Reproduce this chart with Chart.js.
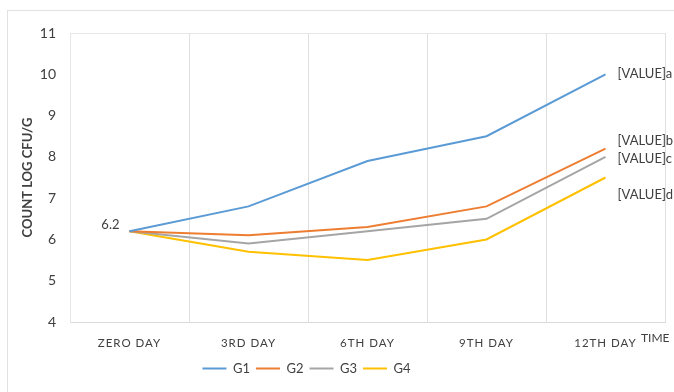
<!DOCTYPE html>
<html>
<head>
<meta charset="utf-8">
<script src="https://cdn.jsdelivr.net/npm/chart.js@4.4.0/dist/chart.umd.min.js"></script>
<style>
  html, body { margin: 0; padding: 0; background: #fff; }
  #wrap { position: relative; width: 674px; height: 392px; }
  #frame { position: absolute; left: 7px; top: 10px; right: -2px; bottom: -2px; border: 1px solid #e2e2e2; }
  canvas { position: absolute; left: 0; top: 0; }
</style>
</head>
<body>
<div id="wrap">
  <div id="frame"></div>
  <canvas id="c" width="674" height="392"></canvas>
</div>
<script>
// Sampling days
const categories = ['ZERO DAY', '3RD DAY', '6TH DAY', '9TH DAY', '12TH DAY'];

// Bacterial count (log CFU/g) per group
const g1 = [6.2, 6.8, 7.9, 8.5, 10.0];
const g2 = [6.2, 6.1, 6.3, 6.8, 8.2];
const g3 = [6.2, 5.9, 6.2, 6.5, 8.0];
const g4 = [6.2, 5.7, 5.5, 6.0, 7.5];

const seriesNames = ['G1', 'G2', 'G3', 'G4'];
const seriesColors = ['#5B9BD5', '#ED7D31', '#A5A5A5', '#FFC000'];

// End-of-series labels and the shared starting label
const endLabels = ['[VALUE]a', '[VALUE]b', '[VALUE]c', '[VALUE]d'];
const endLabelShift = [0, -8, 2, 17];
const startLabel = '6.2';

const yTicks = [4, 5, 6, 7, 8, 9, 10, 11];

const FONT = 'Lato, "Open Sans", sans-serif';

const labelPlugin = {
  id: 'pointLabels',
  afterLayout(chart) {
    // legend sits a little left of centre
    chart.legend.left -= 36;
    chart.legend.right -= 36;
  },
  afterDatasetsDraw(chart) {
    const ctx = chart.ctx;
    ctx.save();
    ctx.font = '13px ' + FONT;
    ctx.fillStyle = '#404040';
    ctx.textBaseline = 'middle';
    chart.data.datasets.forEach((ds, i) => {
      const meta = chart.getDatasetMeta(i);
      const last = meta.data[meta.data.length - 1];
      ctx.textAlign = 'left';
      ctx.fillText(endLabels[i], last.x + 12, last.y + endLabelShift[i]);
    });
    const first = chart.getDatasetMeta(0).data[0];
    ctx.textAlign = 'right';
    ctx.fillText(startLabel, first.x - 10, first.y - 6);

    // axis name at the end of the category axis
    const xs = chart.scales.x;
    ctx.font = '12px ' + FONT;
    ctx.textAlign = 'left';
    ctx.fillText('TIME', chart.chartArea.right - 24, xs.top + 16);

    // top edge of the plot box
    ctx.strokeStyle = '#e6e6e6';
    ctx.lineWidth = 1;
    ctx.beginPath();
    ctx.moveTo(chart.chartArea.left, chart.chartArea.top + 0.5);
    ctx.lineTo(chart.chartArea.right, chart.chartArea.top + 0.5);
    ctx.stroke();
    ctx.restore();
  }
};

const chart = new Chart(document.getElementById('c'), {
  type: 'line',
  data: {
    labels: categories,
    datasets: [g1, g2, g3, g4].map((vals, i) => ({
      label: seriesNames[i],
      data: vals,
      borderColor: seriesColors[i],
      backgroundColor: seriesColors[i],
      borderWidth: 2,
      pointRadius: 0,
      tension: 0,
      fill: false
    }))
  },
  options: {
    responsive: false,
    animation: false,
    events: [],
    layout: { padding: { left: 20, right: 9, top: 33, bottom: 7 } },
    scales: {
      x: {
        offset: true,
        grid: { offset: true, color: '#e0e0e0', drawTicks: false },
        border: { color: '#d9d9d9' },
        ticks: { color: '#404040', font: { family: FONT, size: 11.5 }, padding: 14, maxRotation: 0 },
        afterFit(s) { s.height = 34; }
      },
      y: {
        min: 4,
        max: 11,
        afterBuildTicks(s) { s.ticks = yTicks.map(v => ({ value: v })); },
        grid: { display: false, drawTicks: false },
        border: { color: '#e6e6e6' },
        ticks: { color: '#404040', font: { family: FONT, size: 14 }, padding: 14 },
        title: { display: true, text: 'COUNT LOG CFU/G', color: '#404040', font: { family: FONT, size: 13, weight: 'bold' }, padding: { top: 0, bottom: 4 } },
        afterFit(s) { s.width = 50; }
      }
    },
    plugins: {
      legend: {
        position: 'bottom',
        labels: {
          usePointStyle: true,
          pointStyle: 'line',
          pointStyleWidth: 24,
          boxHeight: 2,
          color: '#404040',
          font: { family: FONT, size: 13 },
          padding: 6
        }
      },
      tooltip: { enabled: false }
    }
  },
  plugins: [labelPlugin]
});

// letter-spaced category labels
const xs = chart.scales.x;
const origDrawLabels = xs.drawLabels.bind(xs);
xs.drawLabels = function (area) {
  const ctx = chart.ctx;
  const prev = ctx.letterSpacing;
  ctx.letterSpacing = '1px';
  origDrawLabels(area);
  ctx.letterSpacing = prev || '0px';
};
chart.draw();
</script>
</body>
</html>
